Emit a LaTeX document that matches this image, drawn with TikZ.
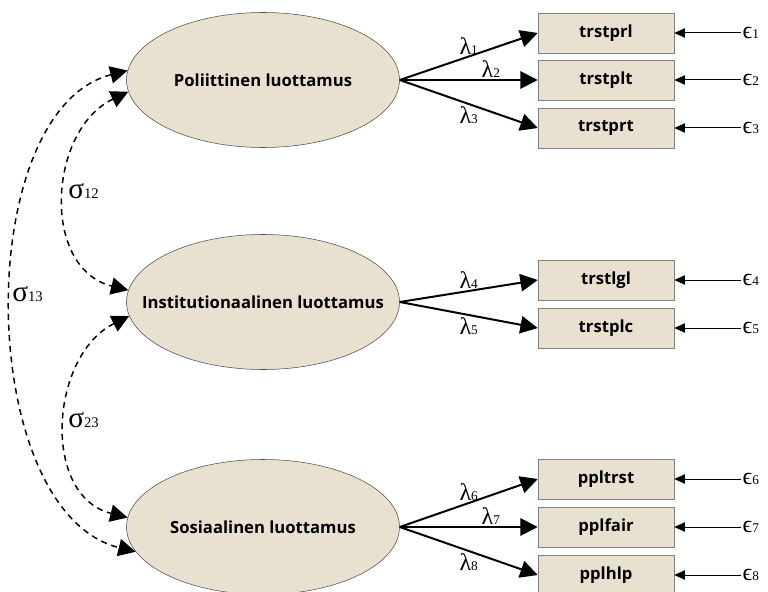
\documentclass[tikz,border=0pt]{standalone}
\usepackage{fontspec}
\setmainfont{Open Sans}
\newfontfamily\grkfont{Liberation Serif}
\usepackage{xcolor}
\usepackage{tikz}
\usetikzlibrary{shapes,arrows.meta,positioning}

\definecolor{factorfill}{RGB}{232,225,207}

\newcommand{\lam}[1]{λ{\fontsize{10}{10}\selectfont #1}}
\newcommand{\sig}[1]{σ{\fontsize{11}{11}\selectfont #1}}
\newcommand{\eps}[1]{ϵ{\fontsize{10}{10}\selectfont #1}}

\begin{document}
\begin{tikzpicture}[x=0.75pt, y=-0.75pt,
    latent/.style={ellipse, draw=black!70, fill=factorfill, minimum width=204.75pt, minimum height=101.25pt, inner sep=0pt},
    factortext/.style={font=\bfseries\fontsize{12.5}{15}\selectfont},
    item/.style={rectangle, draw=black!50, fill=factorfill, minimum width=102pt, minimum height=30pt, inner sep=0pt, font=\bfseries\fontsize{12.5}{15}\selectfont},
    load/.style={line width=1.5pt, -{Triangle[length=13pt,width=13pt]}},
    cov/.style={line width=1.1pt, dash pattern=on 4.5pt off 3.5pt, {Triangle[length=13pt,width=13pt]}-{Triangle[length=13pt,width=13pt]}},
    res/.style={line width=0.75pt, -{Triangle[length=8pt,width=7pt]}},
    lbl/.style={inner sep=1pt, font=\grkfont\fontsize{18}{18}\selectfont},
    siglbl/.style={inner sep=0pt, anchor=base west, font=\grkfont\fontsize{22}{22}\selectfont}
]
    \useasboundingbox (0,0) rectangle (768,592);

    % Factors
    \node [latent, label={[factortext]center:Poliittinen luottamus}] (pol) at (263,80) {};
    \node [latent, label={[factortext]center:Institutionaalinen luottamus}] (inst) at (263,302) {};
    \node [latent, label={[factortext]center:Sosiaalinen luottamus}] (sos) at (263,527) {};

    % Poliittinen luottamus
    \node [item] (trstprl) at (606,33) {trstprl};
    \node [item] (trstplt) at (606,80) {trstplt};
    \node [item] (trstprt) at (606,128) {trstprt};
    \draw [load] (pol.east) -- (trstprl.west) node[lbl, midway, above] {\lam{1}};
    \draw [load] (pol.east) -- (trstplt.west) node[lbl, pos=0.66, above] {\lam{2}};
    \draw [load] (pol.east) -- (trstprt.west) node[lbl, midway, below] {\lam{3}};
    \node [lbl, anchor=west] (e1) at (741,33) {\eps{1}};
    \node [lbl, anchor=west] (e2) at (741,80) {\eps{2}};
    \node [lbl, anchor=west] (e3) at (741,128) {\eps{3}};
    \draw [res] (e1) -- (trstprl);
    \draw [res] (e2) -- (trstplt);
    \draw [res] (e3) -- (trstprt);

    % Institutionaalinen luottamus
    \node [item] (trstlgl) at (606,280) {trstlgl};
    \node [item] (trstplc) at (606,328) {trstplc};
    \draw [load] (inst.east) -- (trstlgl.west) node[lbl, midway, above] {\lam{4}};
    \draw [load] (inst.east) -- (trstplc.west) node[lbl, midway, below] {\lam{5}};
    \node [lbl, anchor=west] (e4) at (741,280) {\eps{4}};
    \node [lbl, anchor=west] (e5) at (741,328) {\eps{5}};
    \draw [res] (e4) -- (trstlgl);
    \draw [res] (e5) -- (trstplc);

    % Sosiaalinen luottamus
    \node [item] (ppltrst) at (606,479) {ppltrst};
    \node [item] (pplfair) at (606,527) {pplfair};
    \node [item] (pplhlp) at (606,575) {pplhlp};
    \draw [load] (sos.east) -- (ppltrst.west) node[lbl, midway, above] {\lam{6}};
    \draw [load] (sos.east) -- (pplfair.west) node[lbl, pos=0.66, above] {\lam{7}};
    \draw [load] (sos.east) -- (pplhlp.west) node[lbl, midway, below] {\lam{8}};
    \node [lbl, anchor=west] (e6) at (741,479) {\eps{6}};
    \node [lbl, anchor=west] (e7) at (741,527) {\eps{7}};
    \node [lbl, anchor=west] (e8) at (741,575) {\eps{8}};
    \draw [res] (e6) -- (ppltrst);
    \draw [res] (e7) -- (pplfair);
    \draw [res] (e8) -- (pplhlp);

    % Covariances
    \draw [cov] (pol.185) .. controls +(-80,38) and +(-88,-22) .. (inst.175);
    \draw [cov] (inst.186) .. controls +(-79,39) and +(-87,-22) .. (sos.176);
    \draw [cov] (pol.176) .. controls +(-157,40) and +(-161,-40) .. (sos.191);
    \node [siglbl] (s12) at (68,198) {\sig{12}};
    \node [siglbl] (s23) at (68,427) {\sig{23}};
    \node [siglbl] (s13) at (12,301) {\sig{13}};
\end{tikzpicture}
\end{document}
